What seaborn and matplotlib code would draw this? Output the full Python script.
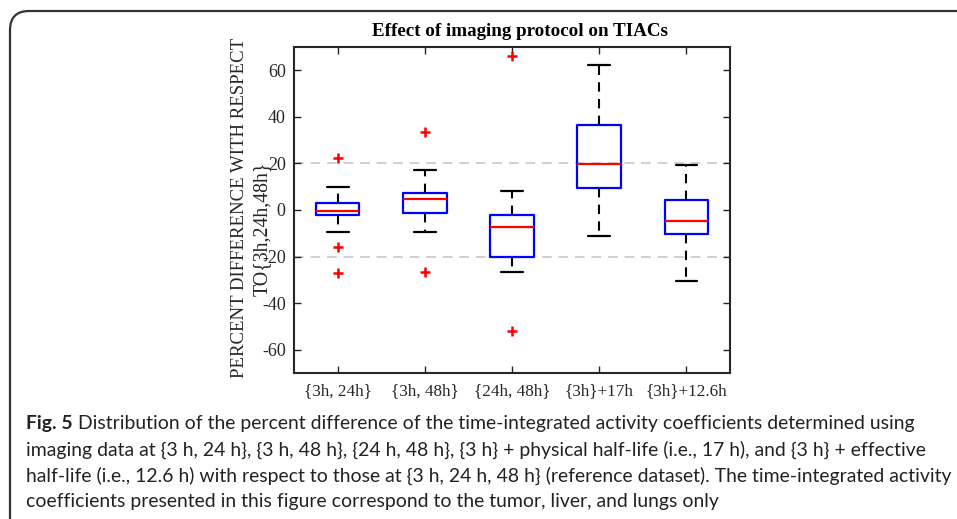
import numpy as np
import pandas as pd
import matplotlib
matplotlib.use("Agg")
import matplotlib.pyplot as plt
import seaborn as sns
from matplotlib.patches import FancyBboxPatch

# ---------------- data ----------------
categories = ["{3h, 24h}", "{3h, 48h}", "{24h, 48h}", "{3h}+17h", "{3h}+12.6h"]
q1 = [-2.3, -1.1, -20.1, 9.6, -10.2]
median = [-0.4, 4.7, -7.2, 19.6, -4.7]
q3 = [3.1, 7.2, -2.3, 36.3, 4.3]
whisker_low = [-9.6, -9.3, -26.8, -11.0, -30.7]
whisker_high = [10.0, 17.3, 8.0, 62.1, 19.5]
outlier_group = ["{3h, 24h}", "{3h, 24h}", "{3h, 24h}",
                 "{3h, 48h}", "{3h, 48h}", "{24h, 48h}", "{24h, 48h}"]
outlier_value = [22.2, -15.8, -27.2, 33.3, -26.8, 66.2, -51.8]
yticks = [-60, -40, -20, 0, 20, 40, 60]
ref_lines = [-20, 20]

title = "Effect of imaging protocol on TIACs"
ylabel_1 = "PERCENT DIFFERENCE WITH RESPECT"
ylabel_2 = "TO{3h,24h,48h}"
caption_bold = "Fig. 5"
caption_lines = [
    " Distribution of the percent difference of the time-integrated activity coefficients determined using",
    "imaging data at {3 h, 24 h}, {3 h, 48 h}, {24 h, 48 h}, {3 h} + physical half-life (i.e., 17 h), and {3 h} + effective",
    "half-life (i.e., 12.6 h) with respect to those at {3 h, 24 h, 48 h} (reference dataset). The time-integrated activity",
    "coefficients presented in this figure correspond to the tumor, liver, and lungs only",
]

# ---------------- style ----------------
sns.set_theme(style="ticks")
plt.rcParams["font.family"] = ["Liberation Serif", "DejaVu Serif"]
plt.rcParams["text.color"] = "#262626"
plt.rcParams["axes.edgecolor"] = "#262626"
plt.rcParams["xtick.color"] = "#262626"
plt.rcParams["ytick.color"] = "#262626"

W, H = 957, 519
fig = plt.figure(figsize=(W / 100, H / 100), dpi=100)
fig.patch.set_facecolor("white")

def fx(px):
    return px / W

def fy(py):
    return 1 - py / H

ax = fig.add_axes([fx(294), fy(373), fx(730) - fx(294), fy(47) - fy(373)])
ax.set_facecolor("white")

positions = list(range(len(categories)))

# reference lines
for r in ref_lines:
    ax.axhline(r, color="#cfcfcf", lw=1.4, ls=(0, (5, 3.5)), zorder=0)

stats = []
for i in positions:
    stats.append(dict(med=median[i], q1=q1[i], q3=q3[i],
                      whislo=whisker_low[i], whishi=whisker_high[i],
                      fliers=[], label=categories[i]))

ax.bxp(stats, positions=positions, widths=0.5, showfliers=False,
       capwidths=0.25, manage_ticks=False,
       boxprops=dict(color="#0000ff", lw=1.6),
       medianprops=dict(color="#ff0000", lw=1.6),
       whiskerprops=dict(color="black", lw=1.5, ls=(0, (4.5, 3.5))),
       capprops=dict(color="black", lw=1.6))

out_df = pd.DataFrame({"pos": [categories.index(g) for g in outlier_group],
                       "value": outlier_value})
sns.scatterplot(data=out_df, x="pos", y="value", marker="+", color="#ff0000",
                s=50, linewidth=1.8, ax=ax, zorder=5, legend=False)

ax.set_xlim(-0.5, len(categories) - 0.5)
ax.set_ylim(-70, 70)
ax.set_xticks(positions)
ax.set_xticklabels(categories, fontsize=12.3)
ax.set_yticks(yticks)
ax.set_yticklabels([str(v) for v in yticks], fontsize=13)
ax.tick_params(direction="in", top=True, right=True, length=5, width=1.0, pad=6)
ax.tick_params(axis="x", pad=7)
ax.set_xlabel("")
ax.set_ylabel("")
for sp in ax.spines.values():
    sp.set_visible(True)
    sp.set_linewidth(1.5)
    sp.set_color("#262626")

fig.text(fx(520), fy(31), title, ha="center", va="center", fontsize=13.7,
         fontweight="bold", color="black")
fig.text(fx(240), fy(208), ylabel_1, ha="center", va="center", rotation=90,
         fontsize=13.5)
fig.text(fx(262), fy(229), ylabel_2, ha="center", va="center", rotation=90,
         fontsize=14.3)

# border
border = FancyBboxPatch((fx(10), -0.2), 1.2, fy(11) + 0.2,
                        boxstyle="round,pad=0,rounding_size=0.02",
                        transform=fig.transFigure, fill=False,
                        edgecolor="#333333", lw=1.6, mutation_aspect=W / H)
fig.patches.append(border)

# caption
cap_font = ["Lato", "DejaVu Sans"]
renderer = fig.canvas.get_renderer()
x0 = 26

def text_width(s, size=12, weight="normal"):
    t = fig.text(0, 0, s, fontsize=size, family=cap_font, fontweight=weight)
    wd = t.get_window_extent(renderer).width
    t.remove()
    return wd

size_a = 12 * (930 - x0) / text_width(caption_lines[1])
size_b = 12 * (949 - x0) / text_width(caption_lines[2])
cap_size = min(size_a, size_b)
ys = [423, 450, 476, 502]
tb = fig.text(fx(x0), fy(ys[0]), caption_bold, ha="left", va="center",
              fontsize=cap_size, family=cap_font, fontweight="bold", color="#222222")
bw = tb.get_window_extent(renderer).width
fig.text(fx(x0 + bw), fy(ys[0]), caption_lines[0], ha="left", va="center",
         fontsize=cap_size, family=cap_font, color="#222222")
for line, yy in zip(caption_lines[1:], ys[1:]):
    fig.text(fx(x0), fy(yy), line, ha="left", va="center", fontsize=cap_size,
             family=cap_font, color="#222222")

fig.savefig("out.png", dpi=100)
